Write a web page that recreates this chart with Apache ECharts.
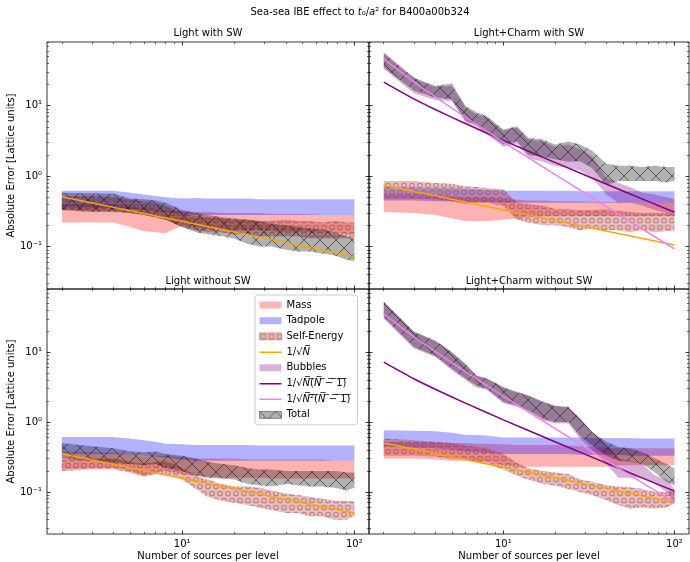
<!DOCTYPE html>
<html>
<head>
<meta charset="utf-8">
<script src="https://cdn.jsdelivr.net/npm/echarts@6/dist/echarts.min.js"></script>
<style>
html, body { margin: 0; padding: 0; background: #fff; }
#chart { width: 690px; height: 562px; }
</style>
</head>
<body>
<div id="chart"></div>
<script>
// number of sources per level (x of every band)
const N = [2, 3, 4, 5, 6, 7, 8, 10, 12, 14, 17, 20, 24, 28, 33, 40, 47, 55, 65, 77, 90, 100];
// x where the reference curves were read
const NREF = [2, 3, 4, 6, 10, 20, 50, 100];

const xTicks = [10, 100];
const xMinor = [2, 3, 4, 5, 6, 7, 8, 9, 20, 30, 40, 50, 60, 70, 80, 90];
const yTicks = [0.1, 1, 10];
const yMinor = [0.03, 0.04, 0.05, 0.06, 0.07, 0.08, 0.09, 0.2, 0.3, 0.4, 0.5, 0.6, 0.7, 0.8, 0.9,
  2, 3, 4, 5, 6, 7, 8, 9, 20, 30, 40, 50, 60, 70, 80];

// Light with SW
const lswMassLo = [0.22, 0.22, 0.22, 0.19, 0.165, 0.16, 0.155, 0.20, 0.19, 0.18, 0.18, 0.17, 0.17, 0.17, 0.165, 0.16, 0.16, 0.16, 0.16, 0.16, 0.15, 0.15];
const lswMassHi = [0.40, 0.40, 0.40, 0.38, 0.35, 0.34, 0.33, 0.32, 0.31, 0.31, 0.30, 0.30, 0.30, 0.30, 0.29, 0.29, 0.29, 0.29, 0.28, 0.28, 0.28, 0.28];
const lswTadLo = [0.36, 0.36, 0.35, 0.34, 0.33, 0.32, 0.31, 0.29, 0.28, 0.28, 0.28, 0.28, 0.28, 0.28, 0.28, 0.28, 0.28, 0.28, 0.28, 0.28, 0.28, 0.28];
const lswTadHi = [0.62, 0.62, 0.62, 0.58, 0.55, 0.52, 0.50, 0.48, 0.49, 0.48, 0.48, 0.48, 0.48, 0.47, 0.47, 0.47, 0.47, 0.47, 0.47, 0.47, 0.47, 0.47];
const lswSeLo = [0.33, 0.32, 0.32, 0.30, 0.28, 0.26, 0.24, 0.19, 0.17, 0.16, 0.16, 0.15, 0.15, 0.14, 0.14, 0.14, 0.14, 0.13, 0.13, 0.13, 0.13, 0.13];
const lswSeHi = [0.52, 0.52, 0.50, 0.46, 0.44, 0.42, 0.38, 0.30, 0.27, 0.26, 0.25, 0.24, 0.24, 0.23, 0.23, 0.24, 0.23, 0.23, 0.22, 0.23, 0.22, 0.22];
const lswTotLo = [0.33, 0.31, 0.31, 0.30, 0.28, 0.26, 0.24, 0.19, 0.16, 0.15, 0.14, 0.13, 0.11, 0.10, 0.10, 0.09, 0.085, 0.085, 0.08, 0.075, 0.065, 0.062];
const lswTotHi = [0.58, 0.57, 0.56, 0.48, 0.47, 0.45, 0.42, 0.33, 0.30, 0.28, 0.26, 0.25, 0.24, 0.23, 0.21, 0.20, 0.19, 0.18, 0.175, 0.16, 0.14, 0.13];
const lswSqrtN = [0.51, 0.416, 0.36, 0.294, 0.228, 0.161, 0.102, 0.072];

// Light+Charm with SW
const lcswMassLo = [0.31, 0.30, 0.28, 0.25, 0.23, 0.23, 0.23, 0.24, 0.25, 0.26, 0.27, 0.27, 0.27, 0.27, 0.27, 0.27, 0.27, 0.27, 0.27, 0.27, 0.27, 0.27];
const lcswMassHi = [0.55, 0.55, 0.54, 0.52, 0.50, 0.50, 0.50, 0.48, 0.46, 0.45, 0.45, 0.44, 0.44, 0.44, 0.43, 0.43, 0.43, 0.42, 0.42, 0.42, 0.42, 0.42];
const lcswTadLo = [0.45, 0.45, 0.44, 0.44, 0.43, 0.43, 0.43, 0.42, 0.42, 0.42, 0.42, 0.42, 0.42, 0.42, 0.42, 0.42, 0.42, 0.42, 0.42, 0.42, 0.42, 0.42];
const lcswTadHi = [0.70, 0.69, 0.68, 0.67, 0.66, 0.65, 0.64, 0.62, 0.62, 0.62, 0.62, 0.62, 0.62, 0.61, 0.61, 0.61, 0.61, 0.61, 0.61, 0.61, 0.61, 0.61];
const lcswSeLo = [0.48, 0.48, 0.47, 0.44, 0.40, 0.42, 0.42, 0.38, 0.24, 0.22, 0.20, 0.20, 0.19, 0.17, 0.18, 0.17, 0.17, 0.16, 0.17, 0.16, 0.165, 0.165];
const lcswSeHi = [0.85, 0.85, 0.80, 0.78, 0.72, 0.70, 0.68, 0.65, 0.42, 0.40, 0.38, 0.34, 0.34, 0.33, 0.33, 0.34, 0.32, 0.31, 0.30, 0.30, 0.30, 0.29];
const lcswBubLo = [33, 15, 12, 11.5, 5.8, 5.0, 3.9, 2.6, 2.9, 1.8, 1.6, 1.4, 1.3, 1.2, 0.95, 0.55, 0.42, 0.42, 0.38, 0.33, 0.30, 0.27];
const lcswBubHi = [55, 24, 18.5, 19, 9.5, 7.5, 6.8, 4.4, 4.9, 3.3, 3.1, 2.6, 2.8, 2.4, 1.9, 0.95, 0.80, 0.70, 0.58, 0.55, 0.50, 0.47];
const lcswTotLo = [35, 16.2, 13, 12.3, 6.1, 5.3, 4.1, 2.8, 3.1, 2.0, 1.9, 1.73, 1.6, 1.63, 1.3, 0.75, 0.85, 0.85, 0.85, 0.85, 0.82, 0.85];
const lcswTotHi = [57, 25, 19, 20.6, 10, 8, 7.1, 4.6, 5.1, 3.5, 3.3, 2.8, 3.1, 2.8, 2.3, 1.5, 1.4, 1.4, 1.35, 1.4, 1.35, 1.35];
const lcswSqrtN = [0.742, 0.606, 0.525, 0.429, 0.332, 0.235, 0.148, 0.105];
const lcswNN1 = [21.6, 12.45, 8.8, 5.57, 3.21, 1.565, 0.616, 0.3065];
const lcswN2N1 = [46, 21.7, 13.3, 6.86, 3.07, 1.055, 0.263, 0.0925];

// Light without SW
const lnMassLo = [0.21, 0.22, 0.22, 0.20, 0.17, 0.19, 0.20, 0.18, 0.17, 0.165, 0.16, 0.16, 0.16, 0.16, 0.155, 0.155, 0.155, 0.155, 0.155, 0.155, 0.155, 0.155];
const lnMassHi = [0.38, 0.37, 0.36, 0.34, 0.32, 0.33, 0.33, 0.31, 0.30, 0.30, 0.30, 0.30, 0.29, 0.29, 0.29, 0.29, 0.29, 0.29, 0.29, 0.28, 0.28, 0.28];
const lnTadLo = [0.36, 0.35, 0.35, 0.34, 0.33, 0.32, 0.31, 0.29, 0.28, 0.28, 0.28, 0.28, 0.28, 0.28, 0.28, 0.28, 0.28, 0.28, 0.28, 0.28, 0.28, 0.28];
const lnTadHi = [0.61, 0.61, 0.61, 0.58, 0.55, 0.52, 0.49, 0.48, 0.47, 0.47, 0.47, 0.47, 0.47, 0.46, 0.46, 0.46, 0.46, 0.46, 0.46, 0.46, 0.46, 0.46];
const lnSeLo = [0.20, 0.21, 0.21, 0.19, 0.165, 0.18, 0.18, 0.15, 0.11, 0.085, 0.075, 0.07, 0.065, 0.06, 0.055, 0.05, 0.05, 0.045, 0.045, 0.04, 0.04, 0.046];
const lnSeHi = [0.29, 0.30, 0.30, 0.27, 0.25, 0.27, 0.28, 0.22, 0.17, 0.15, 0.13, 0.12, 0.12, 0.115, 0.105, 0.095, 0.09, 0.085, 0.08, 0.075, 0.075, 0.073];
const lnTotLo = [0.30, 0.28, 0.26, 0.25, 0.24, 0.25, 0.22, 0.20, 0.17, 0.16, 0.155, 0.15, 0.13, 0.125, 0.12, 0.13, 0.125, 0.12, 0.12, 0.115, 0.105, 0.115];
const lnTotHi = [0.50, 0.45, 0.42, 0.38, 0.37, 0.38, 0.35, 0.33, 0.30, 0.27, 0.25, 0.24, 0.22, 0.21, 0.21, 0.20, 0.20, 0.20, 0.20, 0.20, 0.19, 0.19];
const lnSqrtN = [0.35, 0.286, 0.248, 0.202, 0.157, 0.111, 0.07, 0.0495];

// Light+Charm without SW
const lcnMassLo = [0.30, 0.30, 0.29, 0.28, 0.28, 0.27, 0.27, 0.24, 0.23, 0.23, 0.23, 0.23, 0.23, 0.23, 0.23, 0.23, 0.24, 0.24, 0.24, 0.24, 0.24, 0.24];
const lcnMassHi = [0.52, 0.52, 0.51, 0.50, 0.50, 0.49, 0.49, 0.48, 0.47, 0.47, 0.47, 0.47, 0.46, 0.45, 0.44, 0.43, 0.42, 0.42, 0.42, 0.42, 0.42, 0.42];
const lcnTadLo = [0.45, 0.43, 0.42, 0.40, 0.38, 0.37, 0.36, 0.35, 0.35, 0.35, 0.35, 0.35, 0.35, 0.34, 0.34, 0.34, 0.34, 0.33, 0.33, 0.33, 0.33, 0.33];
const lcnTadHi = [0.76, 0.75, 0.74, 0.70, 0.66, 0.65, 0.64, 0.60, 0.60, 0.60, 0.60, 0.60, 0.60, 0.60, 0.59, 0.59, 0.59, 0.59, 0.58, 0.58, 0.58, 0.58];
const lcnSeLo = [0.33, 0.33, 0.32, 0.30, 0.29, 0.27, 0.25, 0.21, 0.17, 0.15, 0.13, 0.124, 0.11, 0.10, 0.09, 0.076, 0.065, 0.058, 0.06, 0.058, 0.06, 0.068];
const lcnSeHi = [0.58, 0.55, 0.52, 0.50, 0.46, 0.44, 0.42, 0.35, 0.26, 0.22, 0.20, 0.19, 0.18, 0.15, 0.14, 0.125, 0.12, 0.117, 0.11, 0.10, 0.10, 0.106];
const lcnBubLo = [30, 11.3, 8.5, 5.5, 4.0, 3.1, 2.9, 1.85, 1.65, 1.4, 1.05, 0.95, 0.95, 0.58, 0.40, 0.25, 0.16, 0.16, 0.16, 0.13, 0.10, 0.072];
const lcnBubHi = [52, 19.5, 14.5, 9.9, 6.7, 4.6, 4.2, 3.1, 2.65, 2.4, 1.95, 1.72, 1.6, 1.15, 0.72, 0.48, 0.30, 0.28, 0.25, 0.17, 0.15, 0.11];
const lcnTotLo = [31.6, 11.8, 8.9, 5.8, 4.2, 3.3, 3.0, 1.93, 1.73, 1.47, 1.11, 1.0, 1.0, 0.64, 0.46, 0.33, 0.28, 0.27, 0.25, 0.19, 0.139, 0.124];
const lcnTotHi = [52.8, 19.7, 14.6, 10, 6.8, 4.6, 4.2, 3.16, 2.7, 2.4, 1.95, 1.7, 1.65, 1.11, 0.72, 0.52, 0.44, 0.42, 0.37, 0.30, 0.25, 0.215];
const lcnSqrtN = [0.50, 0.41, 0.355, 0.29, 0.225, 0.159, 0.10, 0.071];
const lcnNN1 = [7.21, 4.16, 2.94, 1.86, 1.075, 0.523, 0.206, 0.1025];
const lcnN2N1 = [35.2, 16.6, 10.2, 5.26, 2.35, 0.81, 0.20, 0.071];

const FONT = 'DejaVu Sans';
const XMIN = 1.64, XMAX = 121.6, YMIN = 0.025, YMAX = 80;

// hatch fills like matplotlib's 'o' and 'x'
function circleHatch(rgb) {
  const c = document.createElement('canvas');
  c.width = 16; c.height = 14;
  const ctx = c.getContext('2d');
  ctx.fillStyle = 'rgba(' + rgb + ',0.3)';
  ctx.fillRect(0, 0, 16, 14);
  ctx.strokeStyle = 'rgba(' + rgb + ',0.45)';
  ctx.lineWidth = 1.1;
  [[4, 3.5], [12, 3.5], [0, 10.5], [8, 10.5], [16, 10.5]].forEach(p => {
    ctx.beginPath(); ctx.arc(p[0], p[1], 2.3, 0, Math.PI * 2); ctx.stroke();
  });
  return { image: c, repeat: 'repeat' };
}
function crossHatch(rgb) {
  const c = document.createElement('canvas');
  c.width = 16; c.height = 16;
  const ctx = c.getContext('2d');
  ctx.fillStyle = 'rgba(' + rgb + ',0.3)';
  ctx.fillRect(0, 0, 16, 16);
  ctx.strokeStyle = 'rgba(' + rgb + ',0.5)';
  ctx.lineWidth = 1;
  ctx.beginPath();
  ctx.moveTo(0, 0); ctx.lineTo(16, 16);
  ctx.moveTo(16, 0); ctx.lineTo(0, 16);
  ctx.stroke();
  return { image: c, repeat: 'repeat' };
}

const C_MASS = 'rgba(255,0,0,0.3)';
const C_TAD = 'rgba(0,0,255,0.3)';
const C_SE = circleHatch('165,42,42');
const C_BUB = 'rgba(128,0,128,0.3)';
const C_TOT = crossHatch('0,0,0');
const C_ORANGE = '#ffa500', C_PURPLE = '#800080', C_VIOLET = '#ee82ee';

const SUP = { '-': '\u207b', '0': '\u2070', '1': '\u00b9', '2': '\u00b2', '3': '\u00b3' };
function powLabel(v) {
  const e = String(Math.round(Math.log10(v)));
  return '10' + e.split('').map(ch => SUP[ch]).join('');
}

const grids = [
  { left: 47, top: 42, width: 322, height: 247 },
  { left: 369, top: 42, width: 320, height: 247 },
  { left: 47, top: 289, width: 322, height: 247 },
  { left: 369, top: 289, width: 320, height: 247 }
];

const xAxes = [], yAxes = [];
grids.forEach((g, gi) => {
  const bottomRow = gi >= 2, leftCol = gi % 2 === 0;
  const xb = { type: 'log', gridIndex: gi, min: XMIN, max: XMAX, splitLine: { show: false }, axisLine: { show: false, onZero: false } };
  const yb = { type: 'log', gridIndex: gi, min: YMIN, max: YMAX, splitLine: { show: false }, axisLine: { show: false, onZero: false } };
  const major = { inside: true, length: 3.5, lineStyle: { color: '#000', width: 0.8 } };
  const minor = { inside: true, length: 2, lineStyle: { color: '#000', width: 0.6 } };
  ['bottom', 'top'].forEach(pos => {
    const showLab = pos === 'bottom' && bottomRow;
    xAxes.push(Object.assign({}, xb, {
      position: pos,
      axisTick: Object.assign({}, major, { customValues: xTicks }),
      axisLabel: { show: showLab, customValues: xTicks, formatter: powLabel, margin: 5, fontFamily: FONT, fontSize: 10, color: '#000' },
      name: showLab ? 'Number of sources per level' : '',
      nameLocation: 'middle', nameGap: 17,
      nameTextStyle: { fontFamily: FONT, fontSize: 10, color: '#000' }
    }));
    xAxes.push(Object.assign({}, xb, {
      position: pos,
      axisTick: Object.assign({}, minor, { customValues: xMinor }),
      axisLabel: { show: false }
    }));
  });
  ['left', 'right'].forEach(pos => {
    const showLab = pos === 'left' && leftCol;
    yAxes.push(Object.assign({}, yb, {
      position: pos,
      axisTick: Object.assign({}, major, { customValues: yTicks }),
      axisLabel: { show: showLab, customValues: yTicks, formatter: powLabel, margin: 5, fontFamily: FONT, fontSize: 10, color: '#000' },
      name: showLab ? 'Absolute Error [Lattice units]' : '',
      nameLocation: 'middle', nameGap: 30,
      nameTextStyle: { fontFamily: FONT, fontSize: 10, color: '#000' }
    }));
    yAxes.push(Object.assign({}, yb, {
      position: pos,
      axisTick: Object.assign({}, minor, { customValues: yMinor }),
      axisLabel: { show: false }
    }));
  });
});

// a band is one filled polygon: upper edge left->right, lower edge back
function band(gi, name, lo, hi, fill) {
  return {
    name: name, type: 'custom', xAxisIndex: gi * 4, yAxisIndex: gi * 4,
    data: N.map((n, i) => [n, lo[i], hi[i]]),
    encode: { x: 0, y: [1, 2] },
    itemStyle: { color: typeof fill === 'string' ? fill : '#999' },
    silent: true, z: 2,
    renderItem: (params, api) => {
      if (params.dataIndex !== 0) return null;
      const top = [], bot = [];
      for (let j = 0; j < params.dataInsideLength; j++) {
        const x = api.value(0, j);
        top.push(api.coord([x, api.value(2, j)]));
        bot.push(api.coord([x, api.value(1, j)]));
      }
      return { type: 'polygon', shape: { points: top.concat(bot.reverse()) }, style: { fill: fill, stroke: null } };
    }
  };
}
function refLine(gi, name, vals, color) {
  return {
    name: name, type: 'line', xAxisIndex: gi * 4, yAxisIndex: gi * 4,
    data: NREF.map((n, i) => [n, vals[i]]), symbol: 'none', smooth: 0.2, color: color,
    lineStyle: { color: color, width: 1.5 }, silent: true, z: 3
  };
}

const L_SQRT = '1/\u221aN', L_NN1 = '1/\u221a(N(N\u22121))', L_N2N1 = '1/\u221a(N\u00b2(N\u22121))';

const series = [
  band(0, 'Mass', lswMassLo, lswMassHi, C_MASS),
  band(0, 'Tadpole', lswTadLo, lswTadHi, C_TAD),
  band(0, 'Self-Energy', lswSeLo, lswSeHi, C_SE),
  refLine(0, L_SQRT, lswSqrtN, C_ORANGE),
  band(0, 'Total', lswTotLo, lswTotHi, C_TOT),

  band(1, 'Mass', lcswMassLo, lcswMassHi, C_MASS),
  band(1, 'Tadpole', lcswTadLo, lcswTadHi, C_TAD),
  band(1, 'Self-Energy', lcswSeLo, lcswSeHi, C_SE),
  refLine(1, L_SQRT, lcswSqrtN, C_ORANGE),
  band(1, 'Bubbles', lcswBubLo, lcswBubHi, C_BUB),
  refLine(1, L_NN1, lcswNN1, C_PURPLE),
  refLine(1, L_N2N1, lcswN2N1, C_VIOLET),
  band(1, 'Total', lcswTotLo, lcswTotHi, C_TOT),

  band(2, 'Mass', lnMassLo, lnMassHi, C_MASS),
  band(2, 'Tadpole', lnTadLo, lnTadHi, C_TAD),
  band(2, 'Self-Energy', lnSeLo, lnSeHi, C_SE),
  refLine(2, L_SQRT, lnSqrtN, C_ORANGE),
  band(2, 'Total', lnTotLo, lnTotHi, C_TOT),

  band(3, 'Mass', lcnMassLo, lcnMassHi, C_MASS),
  band(3, 'Tadpole', lcnTadLo, lcnTadHi, C_TAD),
  band(3, 'Self-Energy', lcnSeLo, lcnSeHi, C_SE),
  refLine(3, L_SQRT, lcnSqrtN, C_ORANGE),
  band(3, 'Bubbles', lcnBubLo, lcnBubHi, C_BUB),
  refLine(3, L_NN1, lcnNN1, C_PURPLE),
  refLine(3, L_N2N1, lcnN2N1, C_VIOLET),
  band(3, 'Total', lcnTotLo, lcnTotHi, C_TOT)
];

const OL = '\u0305';
const legendText = {};
legendText[L_SQRT] = '1/\u221a{i|N' + OL + '}';
legendText[L_NN1] = '1/\u221a{i|N' + OL + '}(' + OL + '{i|N' + OL + '} ' + OL + '\u2212' + OL + ' ' + OL + '1' + OL + ')' + OL;
legendText[L_N2N1] = '1/\u221a{i|N' + OL + '}\u00b2' + OL + '(' + OL + '{i|N' + OL + '} ' + OL + '\u2212' + OL + ' ' + OL + '1' + OL + ')' + OL;

// legend handle for a plain line: zero-area subpaths keep the box full height
const LINE_ICON = 'path://M0,0L22,0L22,0.01ZM0,2.9L22,2.9L22,4.4L0,4.4ZM0,7L22,7L22,7.01Z';

const panelTitle = (text, x, y) => ({
  type: 'text', x: x, y: y, silent: true,
  style: { text: text, fill: '#000', font: '10px "' + FONT + '"', align: 'center', verticalAlign: 'middle' }
});

const chart = echarts.init(document.getElementById('chart'));
chart.setOption({
  animation: false,
  backgroundColor: '#fff',
  grid: grids.map(g => Object.assign({ show: true, borderColor: '#000', borderWidth: 0.8, backgroundColor: 'transparent' }, g)),
  xAxis: xAxes,
  yAxis: yAxes,
  legend: {
    orient: 'vertical', left: 255, top: 295,
    itemWidth: 22, itemHeight: 7, itemGap: 5.7,
    backgroundColor: 'rgba(255,255,255,0.85)', borderColor: '#cccccc', borderWidth: 1, borderRadius: 3,
    padding: [5, 7, 5, 4], selectedMode: false,
    textStyle: {
      fontFamily: FONT, fontSize: 10, color: '#000',
      rich: { i: { fontFamily: FONT, fontSize: 10, fontStyle: 'italic', color: '#000' } }
    },
    formatter: name => legendText[name] || name,
    data: [
      { name: 'Mass', icon: 'rect', itemStyle: { color: C_MASS } },
      { name: 'Tadpole', icon: 'rect', itemStyle: { color: C_TAD } },
      { name: 'Self-Energy', icon: 'rect', itemStyle: { color: C_SE, borderColor: 'rgba(165,42,42,0.4)', borderWidth: 1 } },
      { name: L_SQRT, icon: LINE_ICON, itemStyle: { color: C_ORANGE } },
      { name: 'Bubbles', icon: 'rect', itemStyle: { color: C_BUB } },
      { name: L_NN1, icon: LINE_ICON, itemStyle: { color: C_PURPLE } },
      { name: L_N2N1, icon: LINE_ICON, itemStyle: { color: C_VIOLET } },
      { name: 'Total', icon: 'rect', itemStyle: { color: C_TOT, borderColor: 'rgba(0,0,0,0.4)', borderWidth: 1 } }
    ]
  },
  graphic: [
    {
      type: 'text', x: 360, y: 12, silent: true,
      style: {
        text: 'Sea-sea IBE effect to {i|t}\u2080/{i|a}\u00b2 for B400a00b324',
        fill: '#000', font: '10px "' + FONT + '"', align: 'center', verticalAlign: 'middle',
        rich: { i: { fontFamily: FONT, fontSize: 10, fontStyle: 'italic', fill: '#000' } }
      }
    },
    panelTitle('Light with SW', 208, 33),
    panelTitle('Light+Charm with SW', 529, 33),
    panelTitle('Light without SW', 208, 281),
    panelTitle('Light+Charm without SW', 529, 281)
  ],
  series: series
});
</script>
</body>
</html>
